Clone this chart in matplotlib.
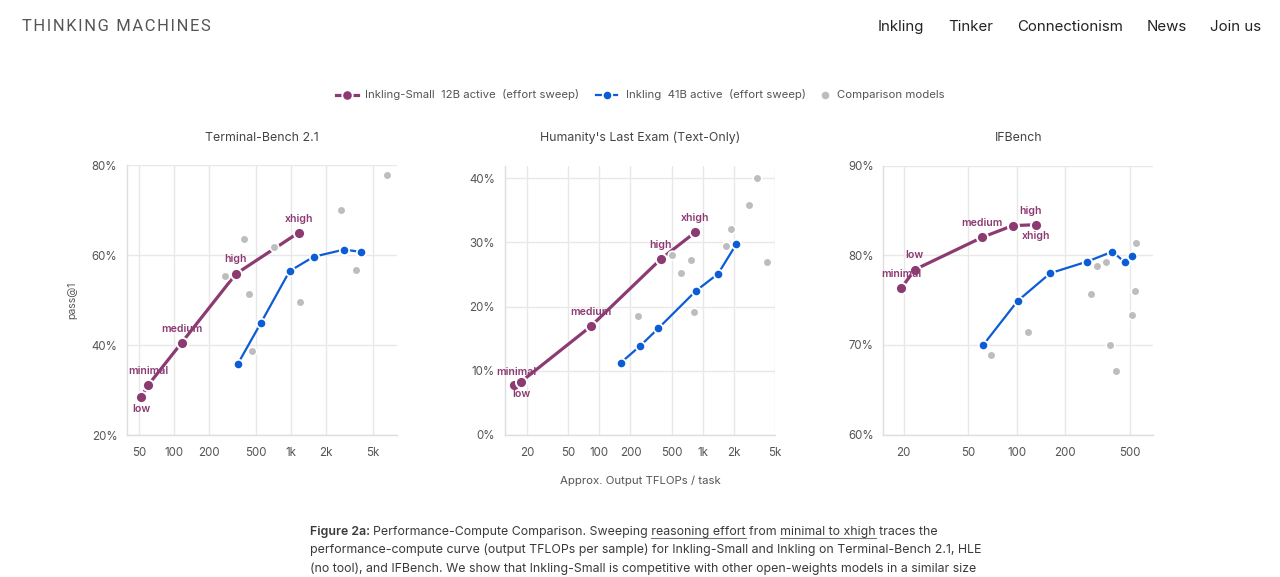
import matplotlib
matplotlib.use('Agg')
import matplotlib.pyplot as plt
from matplotlib.lines import Line2D
from matplotlib.ticker import FixedLocator, FixedFormatter, NullLocator

plt.rcParams['font.family'] = ['Inter', 'DejaVu Sans']

PURPLE = '#8c3a72'
BLUE = '#0b5cd5'
GRAY = '#bdbdbd'
TXT = '#555555'

W, H = 1280, 577

# ---------------- data ----------------
# Terminal-Bench 2.1
tb_small_labels = ['low', 'minimal', 'medium', 'high', 'xhigh']
tb_small_x = [52, 60, 116, 338, 1170]
tb_small_y = [28.4, 31.1, 40.5, 55.8, 65.0]
tb_big_x = [351, 556, 973, 1563, 2845, 3980]
tb_big_y = [35.8, 45.0, 56.4, 59.6, 61.2, 60.7]
tb_cmp_x = [6650, 2700, 398, 723, 272, 442, 3606, 1186, 466]
tb_cmp_y = [77.8, 70.1, 63.6, 61.8, 55.4, 51.3, 56.6, 49.6, 38.7]

# Humanity's Last Exam (Text-Only)
hle_small_labels = ['low', 'minimal', 'medium', 'high', 'xhigh']
hle_small_x = [15.1, 17.6, 82.6, 393, 848]
hle_small_y = [7.7, 8.3, 16.9, 27.4, 31.6]
hle_big_x = [162, 250, 372, 861, 1407, 2115]
hle_big_y = [11.25, 13.9, 16.6, 22.45, 25.1, 29.75]
hle_cmp_x = [3342, 2817, 1888, 1667, 505, 766, 612, 4160, 237, 830]
hle_cmp_y = [40.0, 35.9, 32.1, 29.4, 28.1, 27.3, 25.2, 27.0, 18.5, 19.2]

# IFBench
ifb_small_labels = ['minimal', 'low', 'medium', 'high', 'xhigh']
ifb_small_x = [19.4, 23.5, 61.4, 94.5, 131]
ifb_small_y = [76.35, 78.4, 82.0, 83.3, 83.4]
ifb_big_x = [62.2, 101.4, 161.5, 274, 391, 468, 520]
ifb_big_y = [70.0, 74.9, 78.0, 79.3, 80.4, 79.2, 79.9]
ifb_cmp_x = [547, 356, 313, 290, 542, 520, 117, 69.7, 380, 410]
ifb_cmp_y = [81.4, 79.2, 78.8, 75.7, 76.0, 73.3, 71.5, 68.9, 70.0, 67.15]

titles = ['Terminal-Bench 2.1', "Humanity's Last Exam (Text-Only)", 'IFBench']
x_ticks = [[50, 100, 200, 500, 1000, 2000, 5000],
           [20, 50, 100, 200, 500, 1000, 2000, 5000],
           [20, 50, 100, 200, 500]]
x_tick_labels = [['50', '100', '200', '500', '1k', '2k', '5k'],
                 ['20', '50', '100', '200', '500', '1k', '2k', '5k'],
                 ['20', '50', '100', '200', '500']]
y_ticks = [[20, 40, 60, 80], [0, 10, 20, 30, 40], [60, 70, 80, 90]]
y_tick_labels = [['20%', '40%', '60%', '80%'],
                 ['0%', '10%', '20%', '30%', '40%'],
                 ['60%', '70%', '80%', '90%']]
x_lims = [(39.5, 8100), (12.1, 5000), (15.0, 700)]
y_lims = [(20, 80), (0, 42), (60, 90)]

# label offsets in points (dx, dy) per panel, keyed by effort label
label_offsets = [
    {'low': (0, -8.5), 'minimal': (0, 10), 'medium': (0, 10), 'high': (0, 10.5), 'xhigh': (0, 10)},
    {'low': (5, -6.5), 'minimal': (-3.6, 7), 'medium': (0, 10), 'high': (0, 10), 'xhigh': (0, 10)},
    {'minimal': (0, 10.3), 'low': (0, 10.5), 'medium': (0, 10), 'high': (13, 10.8), 'xhigh': (0, -8.2)},
]

panels = [
    (tb_small_labels, tb_small_x, tb_small_y, tb_big_x, tb_big_y, tb_cmp_x, tb_cmp_y),
    (hle_small_labels, hle_small_x, hle_small_y, hle_big_x, hle_big_y, hle_cmp_x, hle_cmp_y),
    (ifb_small_labels, ifb_small_x, ifb_small_y, ifb_big_x, ifb_big_y, ifb_cmp_x, ifb_cmp_y),
]

# axes boxes in pixels: left, right, top, bottom
boxes = [(127, 397, 165, 435), (504.5, 775, 165.5, 434.7), (883.3, 1153.3, 165.5, 434.7)]

fig = plt.figure(figsize=(W / 100, H / 100), dpi=100)
fig.patch.set_facecolor('white')


def fx(px):
    return px / W


def fy(py):
    return 1 - py / H


for i, (box, data) in enumerate(zip(boxes, panels)):
    l, r, t, b = box
    ax = fig.add_axes([fx(l), fy(b), (r - l) / W, (b - t) / H])
    labels, sx, sy, bx, by, cx, cy = data
    ax.set_xscale('log')
    ax.set_xlim(*x_lims[i])
    ax.set_ylim(*y_lims[i])
    ax.xaxis.set_major_locator(FixedLocator(x_ticks[i]))
    ax.xaxis.set_major_formatter(FixedFormatter(x_tick_labels[i]))
    ax.xaxis.set_minor_locator(NullLocator())
    ax.yaxis.set_major_locator(FixedLocator(y_ticks[i]))
    ax.yaxis.set_major_formatter(FixedFormatter(y_tick_labels[i]))
    ax.tick_params(axis='both', length=0, labelsize=8.3, labelcolor=TXT)
    ax.tick_params(axis='x', pad=9)
    ax.tick_params(axis='y', pad=7)
    ax.grid(True, color='#e8e8e8', linewidth=1.0)
    ax.set_axisbelow(True)
    for s in ['top', 'right']:
        ax.spines[s].set_visible(False)
    for s in ['left', 'bottom']:
        ax.spines[s].set_color('#dedede')
        ax.spines[s].set_linewidth(1.0)
    ax.set_title(titles[i], fontsize=8.9, color='#444444', pad=17.5)

    # lines
    ax.plot(sx, sy, color=PURPLE, linewidth=2.3, zorder=2, solid_capstyle='butt')
    ax.plot(bx, by, color=BLUE, linewidth=1.6, zorder=2, solid_capstyle='butt')
    # comparison models
    ax.plot(cx, cy, linestyle='none', marker='o', markersize=6.2, markerfacecolor=GRAY,
            markeredgecolor='white', markeredgewidth=1.2, zorder=3, clip_on=False)
    # series markers
    ax.plot(sx, sy, linestyle='none', marker='o', markersize=8.0, markerfacecolor=PURPLE,
            markeredgecolor='white', markeredgewidth=1.4, zorder=4, clip_on=False)
    ax.plot(bx, by, linestyle='none', marker='o', markersize=6.8, markerfacecolor=BLUE,
            markeredgecolor='white', markeredgewidth=1.3, zorder=4, clip_on=False)
    # effort labels
    for lab, xv, yv in zip(labels, sx, sy):
        dx, dy = label_offsets[i][lab]
        ax.annotate(lab, (xv, yv), xytext=(dx, dy), textcoords='offset points',
                    ha='center', va='center', fontsize=7.6, fontweight='semibold',
                    color=PURPLE, zorder=5)
    if i == 0:
        ax.set_ylabel('pass@1', fontsize=7.5, color=TXT, labelpad=10)

# x label
fig.text(fx(640), fy(481), 'Approx. Output TFLOPs / task', ha='center', va='center',
         fontsize=8.2, color=TXT)

# ---------------- header ----------------
brand = 'THINKING MACHINES'
fig.text(fx(22), fy(26.5), '\u200a'.join(brand), ha='left', va='center', fontsize=11.9,
         color='#555555', family=['Roboto', 'DejaVu Sans'])
nav = [('Inkling', 901), ('Tinker', 971), ('Connectionism', 1070), ('News', 1167), ('Join us', 1236)]
for name, xc in nav:
    fig.text(fx(xc), fy(31), name, ha='center', va='baseline', fontsize=10.8, color='#222222')

# ---------------- legend ----------------
LEG_FS = 8.2
ly = fy(95)
fig.add_artist(Line2D([fx(336), fx(358)], [ly, ly], color=PURPLE, linewidth=2.3,
                      transform=fig.transFigure))
fig.add_artist(Line2D([fx(347)], [ly], marker='o', markersize=7.5, markerfacecolor=PURPLE,
                      markeredgecolor='white', markeredgewidth=1.3, transform=fig.transFigure))
fig.text(fx(365), ly, 'Inkling-Small  12B active  (effort sweep)', ha='left', va='center',
         fontsize=LEG_FS, color=TXT)
fig.add_artist(Line2D([fx(596), fx(617)], [ly, ly], color=BLUE, linewidth=1.6,
                      transform=fig.transFigure))
fig.add_artist(Line2D([fx(606.5)], [ly], marker='o', markersize=6.8, markerfacecolor=BLUE,
                      markeredgecolor='white', markeredgewidth=1.3, transform=fig.transFigure))
fig.text(fx(626), ly, 'Inkling  41B active  (effort sweep)', ha='left', va='center',
         fontsize=LEG_FS, color=TXT)
fig.add_artist(Line2D([fx(825)], [ly], marker='o', markersize=6.5, markerfacecolor=GRAY,
                      markeredgecolor='white', markeredgewidth=1.0, transform=fig.transFigure))
fig.text(fx(837), ly, 'Comparison models', ha='left', va='center', fontsize=LEG_FS, color=TXT)

# ---------------- caption ----------------
renderer = fig.canvas.get_renderer()
CAP_FS = 8.9
CAP_COL = '#3a3a3a'


def width_px(s, weight='normal'):
    t = fig.text(0, 0, s, fontsize=CAP_FS, fontweight=weight)
    w = t.get_window_extent(renderer).width
    t.remove()
    return w


x0 = 310
bold = 'Figure 2a:'
fig.text(fx(x0), fy(535), bold, ha='left', va='baseline', fontsize=CAP_FS,
         fontweight='semibold', color=CAP_COL)
rest_x = x0 + width_px(bold + ' x', 'semibold') - width_px('x', 'semibold')
rest = 'Performance-Compute Comparison. Sweeping reasoning effort from minimal to xhigh traces the'
fig.text(fx(rest_x), fy(535), rest, ha='left', va='baseline', fontsize=CAP_FS, color=CAP_COL)
for phrase in ['reasoning effort', 'minimal to xhigh']:
    k = rest.index(phrase)
    pre = rest[:k]
    xs = rest_x + width_px(pre + 'x') - width_px('x')
    xe = rest_x + width_px(pre + phrase + 'x') - width_px('x')
    fig.add_artist(Line2D([fx(xs), fx(xe)], [fy(537.5), fy(537.5)], color='#777777',
                          linewidth=0.8, transform=fig.transFigure))

fig.text(fx(x0), fy(553), 'performance-compute curve (output TFLOPs per sample) for Inkling-Small and Inkling on Terminal-Bench 2.1, HLE',
         ha='left', va='baseline', fontsize=CAP_FS, color=CAP_COL)
fig.text(fx(x0), fy(572), '(no tool), and IFBench. We show that Inkling-Small is competitive with other open-weights models in a similar size',
         ha='left', va='baseline', fontsize=CAP_FS, color=CAP_COL)

fig.savefig('out.png', dpi=100, facecolor='white')
